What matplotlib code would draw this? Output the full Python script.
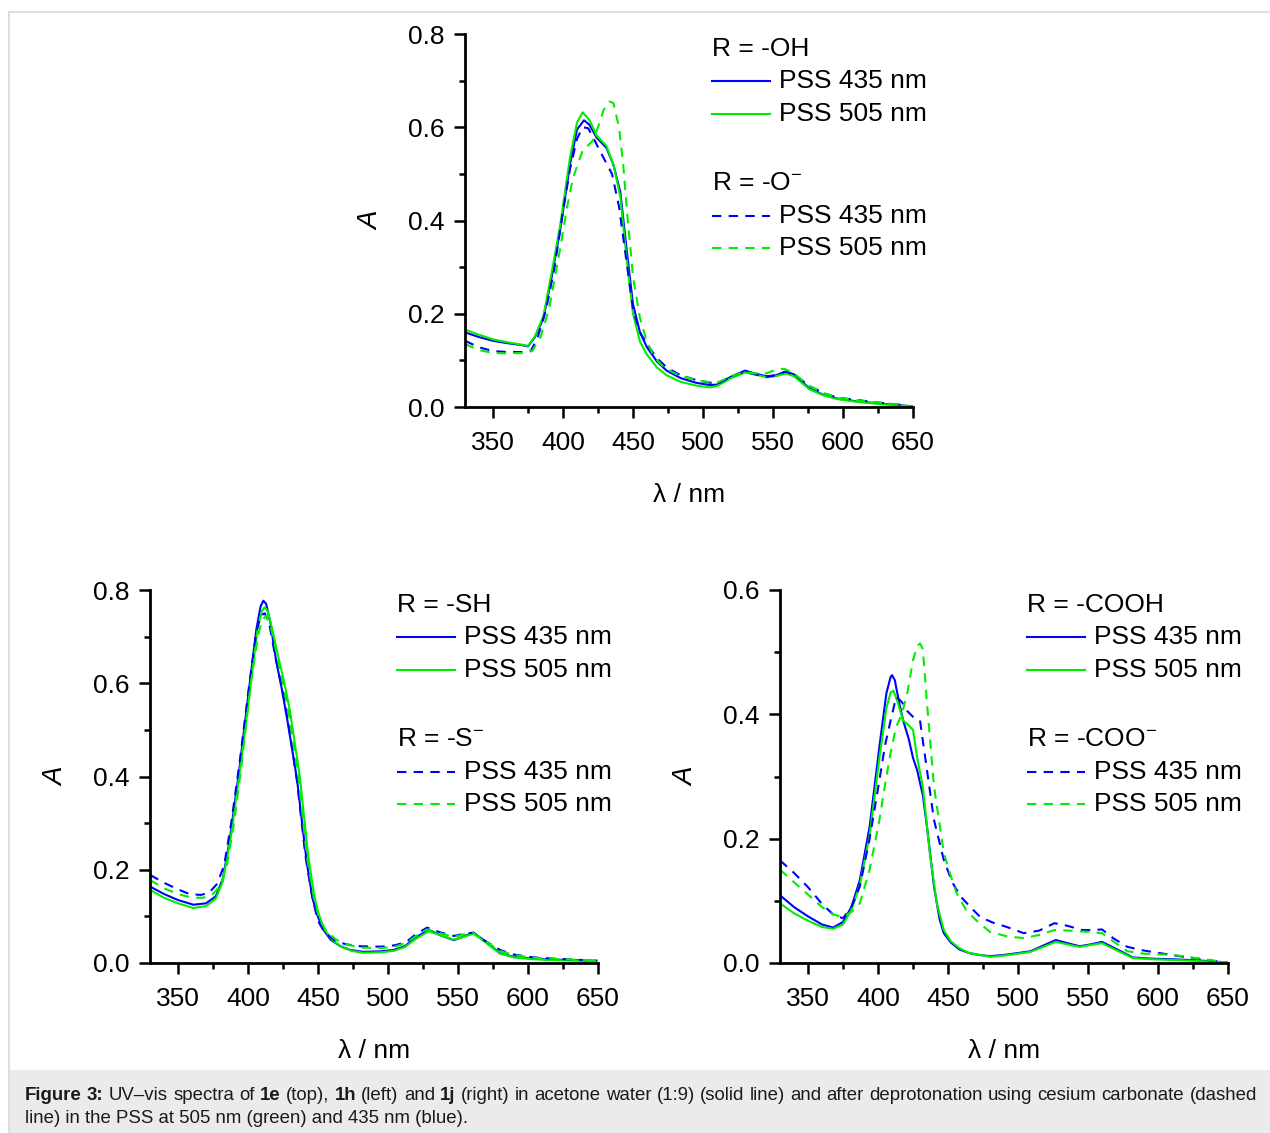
import matplotlib
matplotlib.use("Agg")
import matplotlib.pyplot as plt
from matplotlib.ticker import MultipleLocator
from matplotlib.patches import Rectangle
import numpy as np

plt.rcParams['font.family'] = ['Liberation Sans', 'DejaVu Sans']
plt.rcParams['mathtext.fontset'] = 'custom'
plt.rcParams['mathtext.rm'] = 'Liberation Sans'
plt.rcParams['mathtext.it'] = 'Liberation Sans:italic'

BLUE = '#0000ff'
GREEN = '#00ee00'

# ---------------- data: top panel (1e) ----------------
wl_OH_435 = [330, 340, 350, 360, 370, 375, 380, 386, 392, 398, 405, 410, 415, 419, 424, 431, 436, 441, 445, 450, 455, 460, 467, 474, 484, 495, 505, 510, 520, 530, 537, 545, 552, 559, 565, 576, 586, 596, 610, 624, 640, 650]
A_OH_435 = [0.160, 0.150, 0.142, 0.137, 0.133, 0.130, 0.150, 0.19, 0.28, 0.38, 0.52, 0.595, 0.615, 0.605, 0.578, 0.556, 0.52, 0.46, 0.35, 0.22, 0.16, 0.128, 0.098, 0.078, 0.062, 0.052, 0.047, 0.048, 0.065, 0.078, 0.072, 0.066, 0.068, 0.076, 0.07, 0.04, 0.026, 0.018, 0.012, 0.008, 0.004, 0.001]

wl_OH_505 = [330, 340, 350, 360, 370, 375, 380, 386, 392, 398, 405, 410, 414, 419, 424, 431, 436, 441, 445, 450, 455, 460, 467, 474, 484, 495, 505, 510, 520, 530, 537, 545, 552, 559, 565, 576, 586, 596, 610, 624, 640, 650]
A_OH_505 = [0.166, 0.155, 0.145, 0.139, 0.134, 0.131, 0.152, 0.195, 0.29, 0.39, 0.535, 0.61, 0.632, 0.615, 0.582, 0.56, 0.52, 0.45, 0.33, 0.20, 0.14, 0.112, 0.085, 0.068, 0.054, 0.046, 0.042, 0.045, 0.062, 0.074, 0.07, 0.064, 0.066, 0.072, 0.066, 0.038, 0.025, 0.017, 0.011, 0.007, 0.003, 0.001]

wl_O_435 = [330, 340, 350, 360, 370, 377, 382, 388, 394, 400, 405, 410, 414, 418, 422, 428, 435, 440, 445, 450, 455, 460, 467, 474, 484, 495, 505, 512, 520, 530, 537, 545, 552, 559, 565, 576, 586, 596, 610, 624, 640, 650]
A_O_435 = [0.142, 0.128, 0.120, 0.118, 0.118, 0.12, 0.15, 0.21, 0.30, 0.42, 0.51, 0.575, 0.60, 0.598, 0.575, 0.54, 0.50, 0.43, 0.32, 0.21, 0.16, 0.135, 0.105, 0.085, 0.068, 0.058, 0.052, 0.052, 0.065, 0.076, 0.07, 0.064, 0.068, 0.076, 0.07, 0.045, 0.03, 0.02, 0.015, 0.01, 0.005, 0.001]

wl_O_505 = [330, 340, 350, 360, 370, 378, 384, 390, 398, 403, 407, 414, 421, 425, 429, 433, 436, 440, 443, 446, 450, 455, 460, 465, 472, 480, 490, 500, 510, 520, 530, 537, 545, 552, 558, 565, 576, 586, 596, 610, 624, 640, 650]
A_O_505 = [0.135, 0.122, 0.116, 0.115, 0.116, 0.12, 0.15, 0.21, 0.34, 0.43, 0.49, 0.55, 0.57, 0.60, 0.637, 0.655, 0.652, 0.60, 0.52, 0.41, 0.28, 0.19, 0.14, 0.108, 0.085, 0.072, 0.062, 0.055, 0.052, 0.066, 0.075, 0.072, 0.072, 0.08, 0.082, 0.072, 0.045, 0.03, 0.02, 0.014, 0.01, 0.005, 0.001]

# ---------------- data: bottom-left panel (1h) ----------------
wl_SH_435 = [330, 340, 350, 361, 370, 377, 382, 387, 394, 401, 406, 409, 411, 413, 416, 420, 424, 428, 435, 442, 446, 449, 453, 459, 466, 473, 482, 495, 504, 512, 520, 529, 537, 547, 555, 561, 568, 580, 590, 604, 620, 635, 649]
A_SH_435 = [0.164, 0.148, 0.135, 0.125, 0.128, 0.143, 0.18, 0.265, 0.42, 0.594, 0.716, 0.765, 0.777, 0.77, 0.73, 0.65, 0.59, 0.523, 0.394, 0.215, 0.14, 0.107, 0.075, 0.05, 0.036, 0.028, 0.024, 0.025, 0.028, 0.036, 0.055, 0.071, 0.06, 0.049, 0.058, 0.065, 0.05, 0.021, 0.013, 0.009, 0.007, 0.006, 0.005]

wl_SH_505 = [330, 340, 350, 361, 370, 377, 382, 388, 395, 402, 407, 410, 412, 414, 417, 421, 426, 430, 437, 443, 447, 450, 454, 460, 467, 474, 482, 495, 504, 512, 520, 529, 537, 547, 555, 561, 568, 580, 590, 604, 620, 635, 649]
A_SH_505 = [0.157, 0.14, 0.128, 0.118, 0.122, 0.138, 0.175, 0.275, 0.43, 0.60, 0.72, 0.755, 0.763, 0.755, 0.72, 0.665, 0.6, 0.54, 0.40, 0.23, 0.15, 0.11, 0.075, 0.05, 0.034, 0.026, 0.022, 0.023, 0.026, 0.034, 0.052, 0.068, 0.06, 0.05, 0.057, 0.063, 0.048, 0.02, 0.012, 0.008, 0.006, 0.005, 0.004]

wl_S_435 = [330, 340, 350, 358, 366, 372, 378, 383, 388, 394, 401, 406, 409, 412, 415, 420, 425, 429, 435, 441, 446, 450, 455, 462, 470, 480, 495, 505, 513, 520, 528, 537, 547, 555, 561, 568, 580, 590, 604, 620, 635, 649]
A_S_435 = [0.189, 0.172, 0.158, 0.148, 0.146, 0.15, 0.17, 0.21, 0.30, 0.43, 0.60, 0.71, 0.745, 0.75, 0.73, 0.65, 0.58, 0.51, 0.39, 0.23, 0.14, 0.09, 0.065, 0.048, 0.04, 0.036, 0.035, 0.038, 0.045, 0.062, 0.076, 0.066, 0.058, 0.063, 0.065, 0.05, 0.028, 0.018, 0.012, 0.009, 0.007, 0.005]

wl_S_505 = [330, 340, 350, 360, 368, 374, 380, 385, 390, 396, 402, 407, 410, 413, 416, 420, 425, 430, 436, 442, 447, 451, 456, 463, 470, 480, 495, 505, 513, 520, 528, 537, 547, 555, 561, 568, 580, 590, 604, 620, 635, 649]
A_S_505 = [0.178, 0.16, 0.148, 0.14, 0.14, 0.145, 0.165, 0.21, 0.30, 0.44, 0.60, 0.70, 0.735, 0.745, 0.725, 0.67, 0.60, 0.52, 0.40, 0.23, 0.14, 0.095, 0.068, 0.05, 0.04, 0.033, 0.032, 0.035, 0.043, 0.058, 0.072, 0.064, 0.056, 0.062, 0.064, 0.05, 0.026, 0.017, 0.011, 0.009, 0.007, 0.006]

# ---------------- data: bottom-right panel (1j) ----------------
wl_COOH_435 = [330, 340, 350, 360, 368, 375, 381, 387, 394, 401, 406, 409, 410, 412, 415, 418, 422, 425, 428, 432, 435, 440, 444, 447, 452, 458, 465, 472, 480, 490, 500, 509, 518, 527, 535, 544, 552, 560, 568, 582, 595, 611, 630, 649]
A_COOH_435 = [0.109, 0.09, 0.075, 0.062, 0.057, 0.066, 0.09, 0.133, 0.219, 0.348, 0.434, 0.46, 0.463, 0.455, 0.42, 0.39, 0.36, 0.33, 0.31, 0.27, 0.219, 0.123, 0.07, 0.048, 0.033, 0.022, 0.016, 0.013, 0.011, 0.013, 0.016, 0.019, 0.028, 0.037, 0.032, 0.027, 0.03, 0.034, 0.025, 0.009, 0.007, 0.006, 0.004, 0.001]

wl_COOH_505 = [330, 340, 350, 360, 368, 375, 381, 387, 394, 401, 406, 409, 411, 414, 418, 422, 425, 428, 432, 437, 442, 447, 452, 458, 465, 473, 480, 490, 500, 509, 518, 527, 535, 544, 552, 560, 568, 582, 595, 611, 630, 649]
A_COOH_505 = [0.096, 0.08, 0.068, 0.058, 0.055, 0.062, 0.085, 0.125, 0.205, 0.33, 0.41, 0.435, 0.438, 0.42, 0.39, 0.382, 0.375, 0.33, 0.284, 0.177, 0.096, 0.053, 0.035, 0.024, 0.016, 0.013, 0.01, 0.012, 0.015, 0.018, 0.026, 0.034, 0.03, 0.026, 0.029, 0.032, 0.023, 0.008, 0.006, 0.005, 0.003, 0.001]

wl_COO_435 = [330, 340, 350, 360, 368, 375, 381, 387, 394, 401, 405, 409, 413, 417, 421, 425, 430, 435, 440, 447, 453, 459, 466, 473, 482, 492, 504, 515, 526, 535, 546, 553, 560, 568, 578, 590, 601, 612, 625, 637, 649]
A_COO_435 = [0.165, 0.145, 0.122, 0.095, 0.078, 0.072, 0.09, 0.123, 0.2, 0.294, 0.35, 0.39, 0.428, 0.42, 0.405, 0.396, 0.39, 0.31, 0.23, 0.166, 0.13, 0.107, 0.09, 0.074, 0.065, 0.058, 0.048, 0.052, 0.064, 0.06, 0.053, 0.053, 0.054, 0.04, 0.026, 0.02, 0.016, 0.012, 0.008, 0.004, 0.001]

wl_COO_505 = [330, 340, 350, 360, 368, 375, 381, 387, 394, 401, 406, 410, 413, 417, 421, 425, 428, 430, 432, 435, 440, 447, 452, 456, 463, 470, 480, 492, 504, 515, 526, 537, 551, 560, 568, 578, 590, 611, 630, 649]
A_COO_505 = [0.15, 0.13, 0.11, 0.09, 0.078, 0.074, 0.082, 0.096, 0.15, 0.23, 0.30, 0.35, 0.38, 0.40, 0.435, 0.487, 0.51, 0.514, 0.505, 0.418, 0.284, 0.177, 0.14, 0.113, 0.085, 0.069, 0.05, 0.043, 0.04, 0.045, 0.053, 0.052, 0.05, 0.048, 0.035, 0.019, 0.015, 0.013, 0.007, 0.001]

xticks = [350, 400, 450, 500, 550, 600, 650]
legend_titles = {
    'top': ('R = -OH', r'R = -O$^{-}$'),
    'left': ('R = -SH', r'R = -S$^{-}$'),
    'right': ('R = -COOH', r'R = -COO$^{-}$'),
}
legend_entries = ['PSS 435 nm', 'PSS 505 nm']

caption_line1 = [("Figure", True), ("3:", True), ("UV\u2013vis", False), ("spectra", False), ("of", False),
                 ("1e", True), ("(top),", False), ("1h", True), ("(left)", False), ("and", False),
                 ("1j", True), ("(right)", False), ("in", False), ("acetone", False), ("water", False),
                 ("(1:9)", False), ("(solid", False), ("line)", False), ("and", False), ("after", False),
                 ("deprotonation", False), ("using", False), ("cesium", False), ("carbonate", False),
                 ("(dashed", False)]
caption_line2 = "line) in the PSS at 505 nm (green) and 435 nm (blue)."

W, H = 1270, 1133
fig = plt.figure(figsize=(W / 100, H / 100), dpi=100)
fig.patch.set_facecolor('white')

# frame and caption box
fig.patches.append(Rectangle((9 / W, 0), (W - 9) / W + 0.01, (H - 12) / H, transform=fig.transFigure,
                             facecolor='none', edgecolor='#dedede', lw=1.5, zorder=0))
fig.patches.append(Rectangle((9.7 / W, 0), (W - 9) / W, (H - 1070) / H, transform=fig.transFigure,
                             facecolor='#ebebeb', edgecolor='none', zorder=0))

DASH = (0, (4.5, 3.5))
FS = 19


def make_axes(rect, ymax, series, titles):
    ax = fig.add_axes(rect)
    for wl, a, col, ls in series:
        if ls == 'solid':
            ax.plot(wl, a, color=col, lw=1.5, solid_joinstyle='round')
        else:
            ax.plot(wl, a, color=col, lw=1.5, linestyle=DASH)
    ax.set_xlim(330, 650)
    ax.set_ylim(0, ymax)
    ax.set_xticks(xticks)
    ax.xaxis.set_minor_locator(MultipleLocator(25))
    ax.yaxis.set_major_locator(MultipleLocator(0.2))
    ax.yaxis.set_minor_locator(MultipleLocator(0.1))
    ax.yaxis.set_major_formatter(matplotlib.ticker.FormatStrFormatter('%.1f'))
    for s in ('top', 'right'):
        ax.spines[s].set_visible(False)
    for s in ('left', 'bottom'):
        ax.spines[s].set_linewidth(2.0)
    ax.tick_params(which='major', direction='out', length=8, width=1.8, labelsize=FS, pad=7)
    ax.tick_params(axis='x', which='major', pad=9.5)
    ax.tick_params(which='minor', direction='out', length=4.5, width=1.8)
    ax.set_xlabel('\u03bb / nm', fontsize=FS, labelpad=20)
    ax.set_ylabel('A', fontsize=FS + 1, style='italic', labelpad=17)
    # legend
    x0, x1, xt = 0.552, 0.68, 0.70
    rows = [0.960, 0.873, 0.785, 0.600, 0.513, 0.425]
    ax.text(x0, rows[0], titles[0], transform=ax.transAxes, fontsize=FS, va='center', ha='left')
    ax.text(x0, rows[3], titles[1], transform=ax.transAxes, fontsize=FS, va='center', ha='left')
    specs = [(rows[1], BLUE, '-'), (rows[2], GREEN, '-'), (rows[4], BLUE, DASH), (rows[5], GREEN, DASH)]
    for i, (yy, col, ls) in enumerate(specs):
        ax.plot([x0, x1], [yy, yy], transform=ax.transAxes, color=col, lw=1.5, linestyle=ls, clip_on=False)
        ax.text(xt, yy, legend_entries[i % 2], transform=ax.transAxes, fontsize=FS, va='center', ha='left')
    return ax


aw = 448 / W
ah = 373 / H
make_axes([465 / W, 1 - 407 / H, aw, ah], 0.8,
          [(wl_OH_435, A_OH_435, BLUE, 'solid'), (wl_OH_505, A_OH_505, GREEN, 'solid'),
           (wl_O_435, A_O_435, BLUE, 'dash'), (wl_O_505, A_O_505, GREEN, 'dash')],
          legend_titles['top'])
make_axes([150 / W, 1 - 963 / H, aw, ah], 0.8,
          [(wl_SH_435, A_SH_435, BLUE, 'solid'), (wl_SH_505, A_SH_505, GREEN, 'solid'),
           (wl_S_435, A_S_435, BLUE, 'dash'), (wl_S_505, A_S_505, GREEN, 'dash')],
          legend_titles['left'])
make_axes([780 / W, 1 - 963 / H, aw, ah], 0.6,
          [(wl_COOH_435, A_COOH_435, BLUE, 'solid'), (wl_COOH_505, A_COOH_505, GREEN, 'solid'),
           (wl_COO_435, A_COO_435, BLUE, 'dash'), (wl_COO_505, A_COO_505, GREEN, 'dash')],
          legend_titles['right'])

# caption
CFS = 13.4
renderer = fig.canvas.get_renderer()
x_left, x_right = 25, 1257
base1 = 1 - 1100 / H
base2 = 1 - 1123 / H
widths = []
texts = []
for word, bold in caption_line1:
    t = fig.text(0, base1, word, fontsize=CFS, fontweight='bold' if bold else 'normal',
                 color='#1a1a1a', ha='left', va='baseline')
    bb = t.get_window_extent(renderer)
    widths.append(bb.width)
    texts.append(t)
gap = (x_right - x_left - sum(widths)) / (len(widths) - 1)
x = x_left
for t, w in zip(texts, widths):
    t.set_x(x / W)
    x += w + gap
fig.text(x_left / W, base2, caption_line2, fontsize=CFS, color='#1a1a1a', ha='left', va='baseline')

fig.savefig('out.png', dpi=100, facecolor='white')
